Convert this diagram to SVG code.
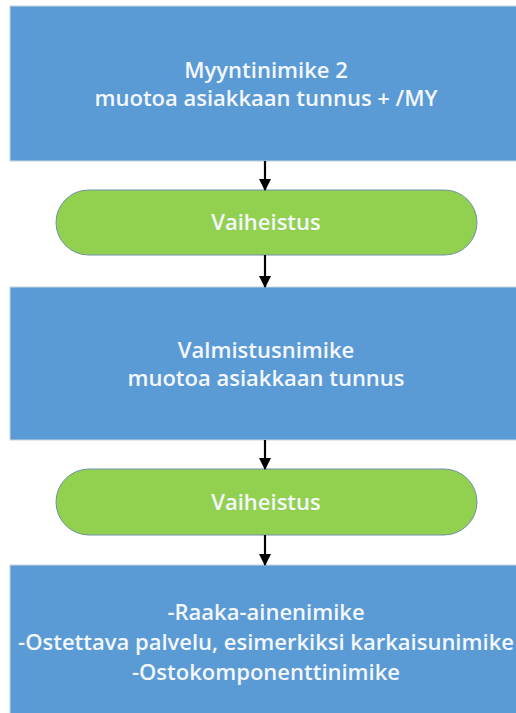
<svg xmlns="http://www.w3.org/2000/svg" width="516" height="713" viewBox="0 0 516 713">
  <style>
    .box { fill: #5b9bd5; stroke: #c9d3dd; stroke-width: 1; }
    .pill { fill: #92d050; stroke: #6f8fa6; stroke-width: 1; }
    .lbl { font-family: "Open Sans", "DejaVu Sans", sans-serif; font-weight: 600; font-size: 22px; fill: #f4f7fb; text-anchor: middle; }
    .edge { stroke: #000000; stroke-width: 2.2; fill: none; }
  </style>
  <defs>
    <marker id="arrow" markerWidth="12" markerHeight="12" refX="11" refY="6" orient="auto" markerUnits="userSpaceOnUse">
      <path d="M0,0 L12,6 L0,12 Z" fill="#000000"/>
    </marker>
  </defs>
  <rect x="0" y="0" width="516" height="713" fill="#ffffff"/>

  <g id="myyntinimike">
    <rect class="box" x="10" y="6" width="520" height="155"/>
    <text class="lbl" x="266" y="78">Myyntinimike 2</text>
    <text class="lbl" x="266" y="106">muotoa asiakkaan tunnus + /MY</text>
  </g>

  <g id="vaiheistus1">
    <rect class="pill" x="56" y="190" width="421" height="65" rx="32.5" ry="32.5"/>
    <text class="lbl" x="266" y="230">Vaiheistus</text>
  </g>

  <g id="valmistusnimike">
    <rect class="box" x="10" y="287" width="520" height="153"/>
    <text class="lbl" x="266" y="358">Valmistusnimike</text>
    <text class="lbl" x="266" y="386">muotoa asiakkaan tunnus</text>
  </g>

  <g id="vaiheistus2">
    <rect class="pill" x="56" y="469" width="421" height="66" rx="33" ry="33"/>
    <text class="lbl" x="266" y="510">Vaiheistus</text>
  </g>

  <g id="ostonimikkeet">
    <rect class="box" x="10" y="565" width="520" height="160"/>
    <text class="lbl" x="266" y="620">-Raaka-ainenimike</text>
    <text class="lbl" x="266" y="650">-Ostettava palvelu, esimerkiksi karkaisunimike</text>
    <text class="lbl" x="266" y="680">-Ostokomponenttinimike</text>
  </g>

  <g id="connectors">
    <line class="edge" x1="265" y1="161" x2="265" y2="190" marker-end="url(#arrow)"/>
    <line class="edge" x1="265" y1="255" x2="265" y2="287" marker-end="url(#arrow)"/>
    <line class="edge" x1="265" y1="440" x2="265" y2="469" marker-end="url(#arrow)"/>
    <line class="edge" x1="265" y1="535" x2="265" y2="565" marker-end="url(#arrow)"/>
  </g>
</svg>
